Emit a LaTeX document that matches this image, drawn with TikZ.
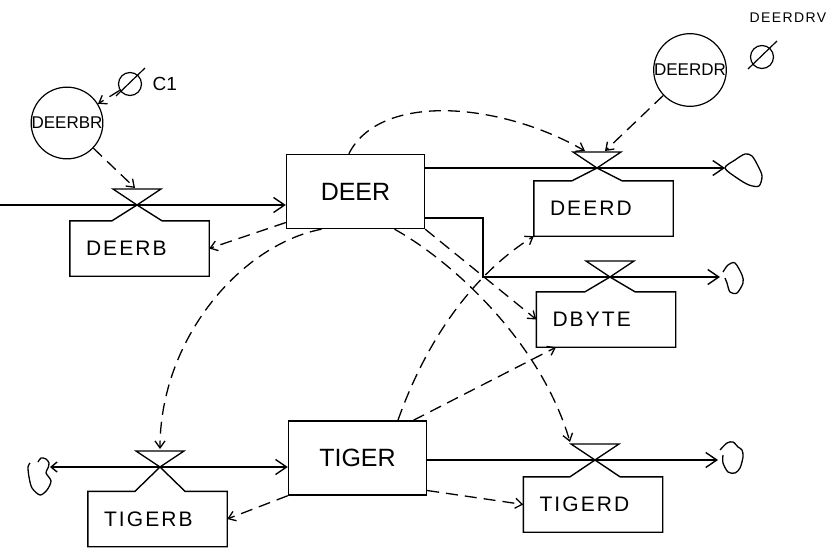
\documentclass[tikz,border=0pt]{standalone}
\usepackage{fontspec}
\setmainfont{Liberation Sans}
\newfontfamily\spaced[LetterSpace=10]{Liberation Sans}
\usetikzlibrary{calc,arrows.meta,positioning}

\begin{document}
\begin{tikzpicture}[x=1pt,y=-1pt,
  stock/.style={draw,line width=1.4pt,minimum width=138pt,minimum height=74pt,inner sep=0pt,font=\fontsize{25}{25}\selectfont},
  rate/.style={inner xsep=16pt,inner ysep=0pt,text width=107pt,minimum height=55pt,align=left,font=\spaced\fontsize{21}{21}\selectfont},
  aux/.style={draw,circle,line width=1.2pt,minimum size=64pt,inner sep=0pt,font=\fontsize{17}{17}\selectfont},
  const/.style={draw,circle,line width=1.2pt,minimum size=23pt,inner sep=0pt},
  flow/.style={line width=1.4pt,-{Straight Barb[length=11pt,width=15pt]}},
  info/.style={line width=1.3pt,dash pattern=on 12pt off 7pt,-{Straight Barb[length=7pt,width=10pt]}}]
  \useasboundingbox (0,0) rectangle (831,551);
  \node[stock] (deer) at (355.5,191.5) {DEER};
  \node[stock] (tiger) at (357.5,458) {TIGER};
  \node[rate] (deerb) at (139.5,248.5) {DEERB};
  \node[rate] (deerd) at (603.5,208.5) {DEERD};
  \node[rate] (dbyte) at (606,319.5) {DBYTE};
  \node[rate] (tigerb) at (157.5,519) {TIGERB};
  \node[rate] (tigerd) at (593,504.5) {TIGERD};
  \node[aux] (deerbr) at (67,123) {DEERBR};
  \node[aux] (deerdr) at (690,70) {DEERDR};
  \node[const] (c1) at (130,84) {};
  \node[right=7pt of c1,font=\fontsize{19}{19}\selectfont] (c1lab) {C1};
  \node[const] (drv) at (762,57) {};
  \node[font=\spaced\fontsize{14}{14}\selectfont] (drvlab) at (788,18) {DEERDRV};
  \coordinate (inl) at (0,205);
  \coordinate (vb) at (137,205);
  \coordinate (vd) at (597,168);
  \coordinate (vy) at (610,277);
  \coordinate (vtb) at (160,467);
  \coordinate (vtd) at (595,460);
  \coordinate (bend) at (483,218);
  \coordinate (cd) at (725,168);
  \coordinate (cy) at (720,277);
  \coordinate (ctb) at (50,467);
  \coordinate (ctd) at (718,460);
  \coordinate (vbt) at (135,188);
  \coordinate (vdl) at (585,151);
  \coordinate (vdr) at (605,151);
  \coordinate (vtbt) at (160,449);
  \coordinate (vtdl) at (570,442);
  \draw[flow] (inl) -- (deer.west |- inl);
  \draw[flow] (deer.east |- vd) -- (cd);
  \draw[flow] (deer.east |- bend) -- (bend) -- (bend |- vy) -- (cy);
  \draw[flow,{Straight Barb[length=6pt,width=10pt]}-{Straight Barb[length=11pt,width=15pt]}] (ctb) -- (tiger.west |- vtb);
  \draw[flow] (tiger.east |- vtd) -- (ctd);
  \foreach \b/\v in {deerb/vb,deerd/vd,dbyte/vy,tigerb/vtb,tigerd/vtd}{
     \draw[line width=1.3pt] ($(\v)+(-24,-16)$) -- ($(\v)+(24,-16)$) -- (\v) -- cycle;
     \draw[line width=1.4pt] (\b.north west) -- ($(\b.north -| \v)+(-25,0)$) -- (\v) -- ($(\b.north -| \v)+(25,0)$) -- (\b.north east) -- (\b.south east) -- (\b.south west) -- cycle;
  }
  \draw[line width=1.3pt,shift={(cd)}] plot[smooth cycle] coordinates {(0,0) (10,-8) (20,-14) (27,-12) (33,-2) (37,8) (34,18) (24,17) (12,10)};
  \draw[line width=1.3pt,shift={(cy)}] plot[smooth] coordinates {(3,-5) (8,-12) (15,-14) (22,-2) (23,6) (17,16) (10,15) (7,6) (5,1)};
  \draw[line width=1.3pt,shift={(ctd)}] plot[smooth] coordinates {(2,-10) (9,-17) (15,-18) (20,-13) (24,-10) (25,-3) (22,8) (17,13) (10,12) (5,3) (5,-5)};
  \draw[line width=1.3pt,shift={(ctb)}] plot[smooth] coordinates {(-20,-4) (-22,0) (-21,10) (-18,21) (-10,28) (-3,23) (1,14) (-4,6) (-2,1) (-1,-4) (-4,-8) (-9,-9) (-12,-5)};
  \foreach \k in {c1,drv}
     \draw[line width=1.2pt] ($(\k)+(-14,12)$) -- ($(\k)+(15,-16)$);
  \draw[info] (c1) -- (deerbr);
  \draw[info] (deerbr) -- (vbt);
  \draw[info] (deerdr) -- (vdr);
  \draw[info] (deer.100) .. controls (380,92) and (500,102) .. (vdl);
  \draw[info] (deer.204) -- (deerb.east);
  \draw[info] (deer.228) .. controls (240,245) and (160,340) .. (vtbt);
  \draw[info] (deer.south east) -- (dbyte.west);
  \draw[info] (deer.316) .. controls (450,260) and (540,340) .. (vtdl);
  \draw[info] (tiger.43) .. controls (430,330) and (480,270) .. (deerd.south west);
  \draw[info] (tiger.34) -- (dbyte.209);
  \draw[info] (tiger.south west) -- (tigerb.east);
  \draw[info] (tiger.-25) -- (tigerd.west);
\end{tikzpicture}
\end{document}
